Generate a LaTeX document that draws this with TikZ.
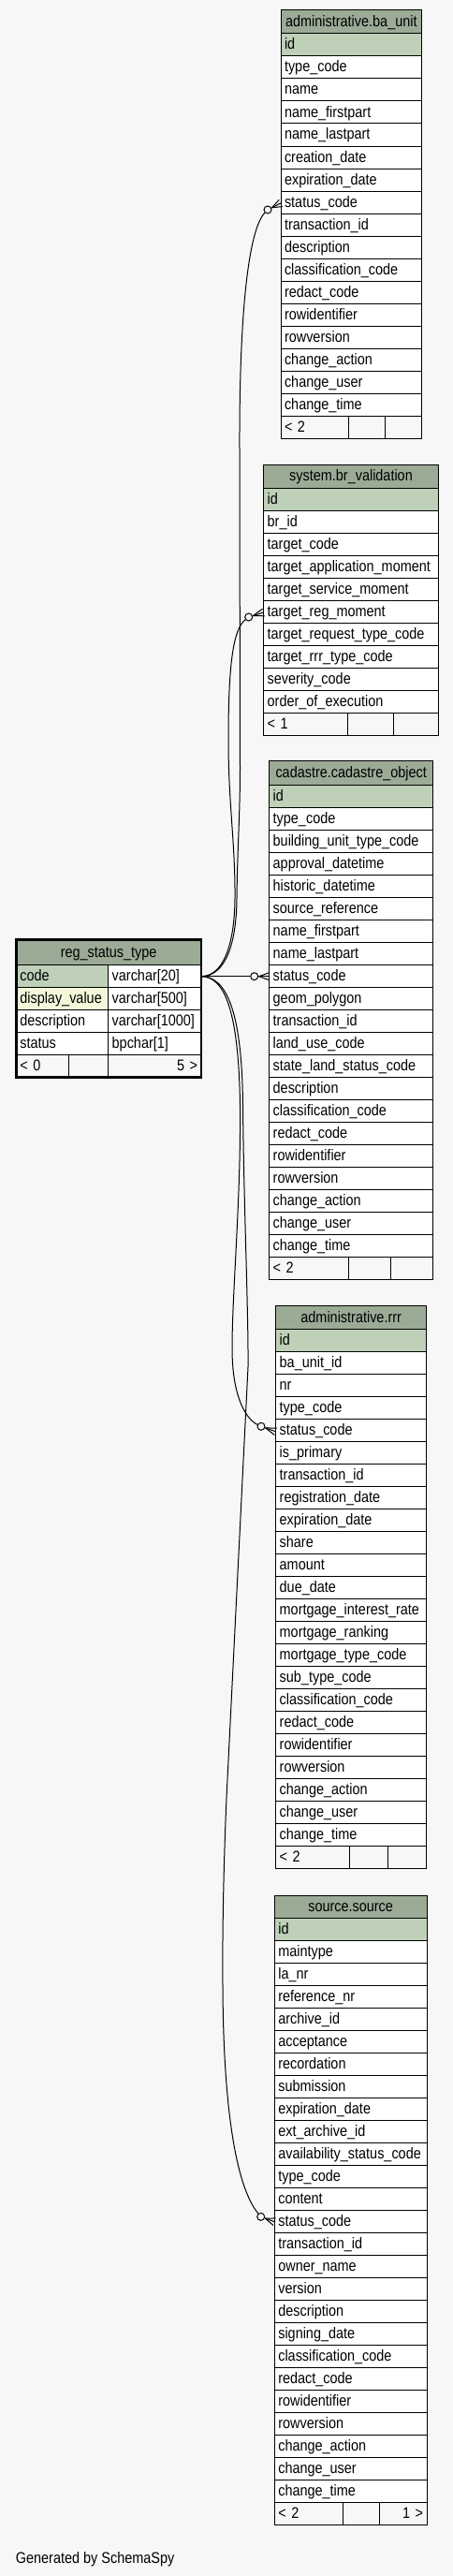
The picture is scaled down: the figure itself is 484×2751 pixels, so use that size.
\documentclass[tikz,border=0pt]{standalone}
\usepackage{fontspec}
\setmainfont{Liberation Sans}[FakeStretch=0.87]
\usetikzlibrary{calc}
\definecolor{bgc}{HTML}{F7F7F7}
\definecolor{hdrc}{HTML}{9BAB96}
\definecolor{pkc}{HTML}{BED1B8}
\definecolor{idxc}{HTML}{F4F7DA}
\tikzset{
  cellbase/.style={draw=black, line width=1pt, inner ysep=0pt, inner xsep=4pt, outer sep=0pt,
    anchor=north west, text height=12pt, text depth=2pt, minimum height=24pt},
  hdrcell/.style={cellbase, fill=hdrc, align=center},
  rowcell/.style={cellbase, fill=white, align=left},
  pkcell/.style={rowcell, fill=pkc},
  idxcell/.style={rowcell, fill=idxc},
  footcell/.style={cellbase, fill=bgc, align=left},
  footright/.style={cellbase, fill=bgc, align=right},
  edge/.style={draw=black, line width=1pt},
  odot/.style={circle, draw=black, fill=bgc, line width=1pt, minimum size=8pt, inner sep=0pt},
}
% #1 name, #2 left, #3 right, #4 top, #5 header bottom, #6 title, #7 rows
\newcommand\dbtable[7]{%
  \pgfmathsetmacro\dbW{#3-#2}%
  \pgfmathsetmacro\dbH{#5-#4}%
  \pgfmathsetmacro\dbT{#3-#2-8}%
  \node[hdrcell, text width=\dbT pt, minimum height=\dbH pt] (#1-h) at (#2,#4) {\mbox{#6}};
  \foreach \r [count=\i from 0] in {#7} {%
    \pgfmathsetmacro\yy{#5+24*\i}%
    \ifnum\i=0\relax
      \node[pkcell, text width=\dbT pt] (#1-\i) at (#2,\yy) {\mbox{\r}};
    \else
      \node[rowcell, text width=\dbT pt] (#1-\i) at (#2,\yy) {\mbox{\r}};
    \fi
  }%
}
% #1 name, #2 left, #3 d1, #4 d2, #5 right, #6 y, #7 left text, #8 right text
\newcommand\dbfoot[8]{%
  \pgfmathsetmacro\dbA{#3-#2-8}%
  \pgfmathsetmacro\dbB{#4-#3-8}%
  \pgfmathsetmacro\dbC{#5-#4-8}%
  \node[footcell, text width=\dbA pt] (#1-fa) at (#2,#6) {#7};
  \node[footcell, text width=\dbB pt] (#1-fb) at (#3,#6) {};
  \node[footright, text width=\dbC pt] (#1-fc) at (#4,#6) {#8};
}
\newcommand\crowfoot[2]{%
  \draw[edge] (#1) -- (#2);
  \draw[edge] ($(#1)!5pt!(#2)$) -- ($(#2)!4pt!90:(#1)$);
  \draw[edge] ($(#1)!5pt!(#2)$) -- ($(#2)!4pt!-90:(#1)$);
}
\begin{document}
\begin{tikzpicture}[x=1pt, y=-1pt, font=\fontsize{16.6pt}{20pt}\selectfont]
\useasboundingbox (0,0) rectangle (484,2751);
\fill[bgc] (0,0) rectangle (484,2751);

% administrative.ba_unit
\dbtable{ba}{300}{450.7}{11}{36}{administrative.ba\_unit}{id,type\_code,name,name\_firstpart,name\_lastpart,creation\_date,expiration\_date,status\_code,transaction\_id,description,classification\_code,redact\_code,rowidentifier,rowversion,change\_action,change\_user,change\_time}
\dbfoot{ba}{300}{372.7}{411.7}{450.7}{444}{< 2}{}

% system.br_validation
\dbtable{br}{281.7}{468.3}{496}{521}{system.br\_validation}{id,br\_id,target\_code,target\_application\_moment,target\_service\_moment,target\_reg\_moment,target\_request\_type\_code,target\_rrr\_type\_code,severity\_code,order\_of\_execution}
\dbfoot{br}{281.7}{371.7}{420}{468.3}{761}{< 1}{}

% cadastre.cadastre_object
\dbtable{co}{287.7}{462.7}{812.7}{838.7}{cadastre.cadastre\_object}{id,type\_code,building\_unit\_type\_code,approval\_datetime,historic\_datetime,source\_reference,name\_firstpart,name\_lastpart,status\_code,geom\_polygon,transaction\_id,land\_use\_code,state\_land\_status\_code,description,classification\_code,redact\_code,rowidentifier,rowversion,change\_action,change\_user,change\_time}
\dbfoot{co}{287.7}{372.7}{417.3}{462.7}{1342.7}{< 2}{}

% administrative.rrr
\dbtable{rrr}{294.7}{455.7}{1394.7}{1419.3}{administrative.rrr}{id,ba\_unit\_id,nr,type\_code,status\_code,is\_primary,transaction\_id,registration\_date,expiration\_date,share,amount,due\_date,mortgage\_interest\_rate,mortgage\_ranking,mortgage\_type\_code,sub\_type\_code,classification\_code,redact\_code,rowidentifier,rowversion,change\_action,change\_user,change\_time}
\dbfoot{rrr}{294.7}{373}{414.7}{455.7}{1971.3}{< 2}{}

% source.source
\dbtable{src}{293.3}{456}{2024}{2048.7}{source.source}{id,maintype,la\_nr,reference\_nr,archive\_id,acceptance,recordation,submission,expiration\_date,ext\_archive\_id,availability\_status\_code,type\_code,content,status\_code,transaction\_id,owner\_name,version,description,signing\_date,classification\_code,redact\_code,rowidentifier,rowversion,change\_action,change\_user,change\_time}
\dbfoot{src}{293.3}{366.7}{405.3}{456}{2672.7}{< 2}{1 >}

% reg_status_type
\node[hdrcell, text width=189.7pt, minimum height=27.4pt] (rs-h) at (17.3,1003.3) {reg\_status\_type};
\node[pkcell, text width=90.4pt] (rs-0a) at (17.3,1030.7) {code};
\node[rowcell, text width=91.3pt] (rs-0b) at (115.7,1030.7) {varchar[20]};
\node[idxcell, text width=90.4pt] (rs-1a) at (17.3,1054.7) {\mbox{display\_value}};
\node[rowcell, text width=91.3pt] (rs-1b) at (115.7,1054.7) {varchar[500]};
\node[rowcell, text width=90.4pt] (rs-2a) at (17.3,1078.7) {description};
\node[rowcell, text width=91.3pt] (rs-2b) at (115.7,1078.7) {\mbox{varchar[1000]}};
\node[rowcell, text width=90.4pt] (rs-3a) at (17.3,1102.7) {status};
\node[rowcell, text width=91.3pt] (rs-3b) at (115.7,1102.7) {bpchar[1]};
\dbfoot{rs}{17.3}{73}{115.7}{215}{1126.7}{< 0}{5 >}
\draw[line width=2.6pt] (rs-h.north west) rectangle (rs-fc.south east);

% optional-zero circles
\node[odot] (c1) at (286,224) {};
\node[odot] (c2) at (265.7,659) {};
\node[odot] (c3) at (271.7,1042.7) {};
\node[odot] (c4) at (279,1523.3) {};
\node[odot] (c5) at (278.7,2367.3) {};

% crow end points on the child tables
\coordinate (e1) at ($(ba-7.west)+(0,1)$);
\coordinate (e2) at ($(br-5.west)+(0,1)$);
\coordinate (e3) at (co-8.west);
\coordinate (e4) at ($(rrr-4.west)+(0,1.5)$);
\coordinate (e5) at (src-13.west);

% connectors
\draw[edge] (rs-0b.east) .. controls (240,1042.7) and (252.5,1010) .. (253,960)
  .. controls (253.5,910) and (256.5,870) .. (256.5,820) -- (256,480)
  .. controls (255.5,330) and (266,245) .. (c1);
\draw[edge] (rs-0b.east) .. controls (238,1042.7) and (250.5,1010) .. (251,960)
  .. controls (251.5,900) and (244,860) .. (244,790)
  .. controls (244,710) and (249,672) .. (c2);
\draw[edge] (rs-0b.east) -- (c3);
\draw[edge] (rs-0b.east) .. controls (240,1042.7) and (255,1080) .. (256.5,1180)
  .. controls (257.5,1280) and (248,1380) .. (248,1440)
  .. controls (248,1490) and (262,1515) .. (c4);
\draw[edge] (rs-0b.east) .. controls (242,1042.7) and (258.5,1080) .. (259.5,1180)
  .. controls (260.5,1290) and (265.5,1400) .. (265,1460) -- (242,1920)
  .. controls (239,1990) and (237.5,2060) .. (238,2120)
  .. controls (238.5,2250) and (252,2335) .. (c5);

\crowfoot{c1}{e1}
\crowfoot{c2}{e2}
\crowfoot{c3}{e3}
\crowfoot{c4}{e4}
\crowfoot{c5}{e5}

\node[anchor=base west, inner sep=0pt] (gen) at (16.7,2737) {Generated by SchemaSpy};
\end{tikzpicture}
\end{document}
